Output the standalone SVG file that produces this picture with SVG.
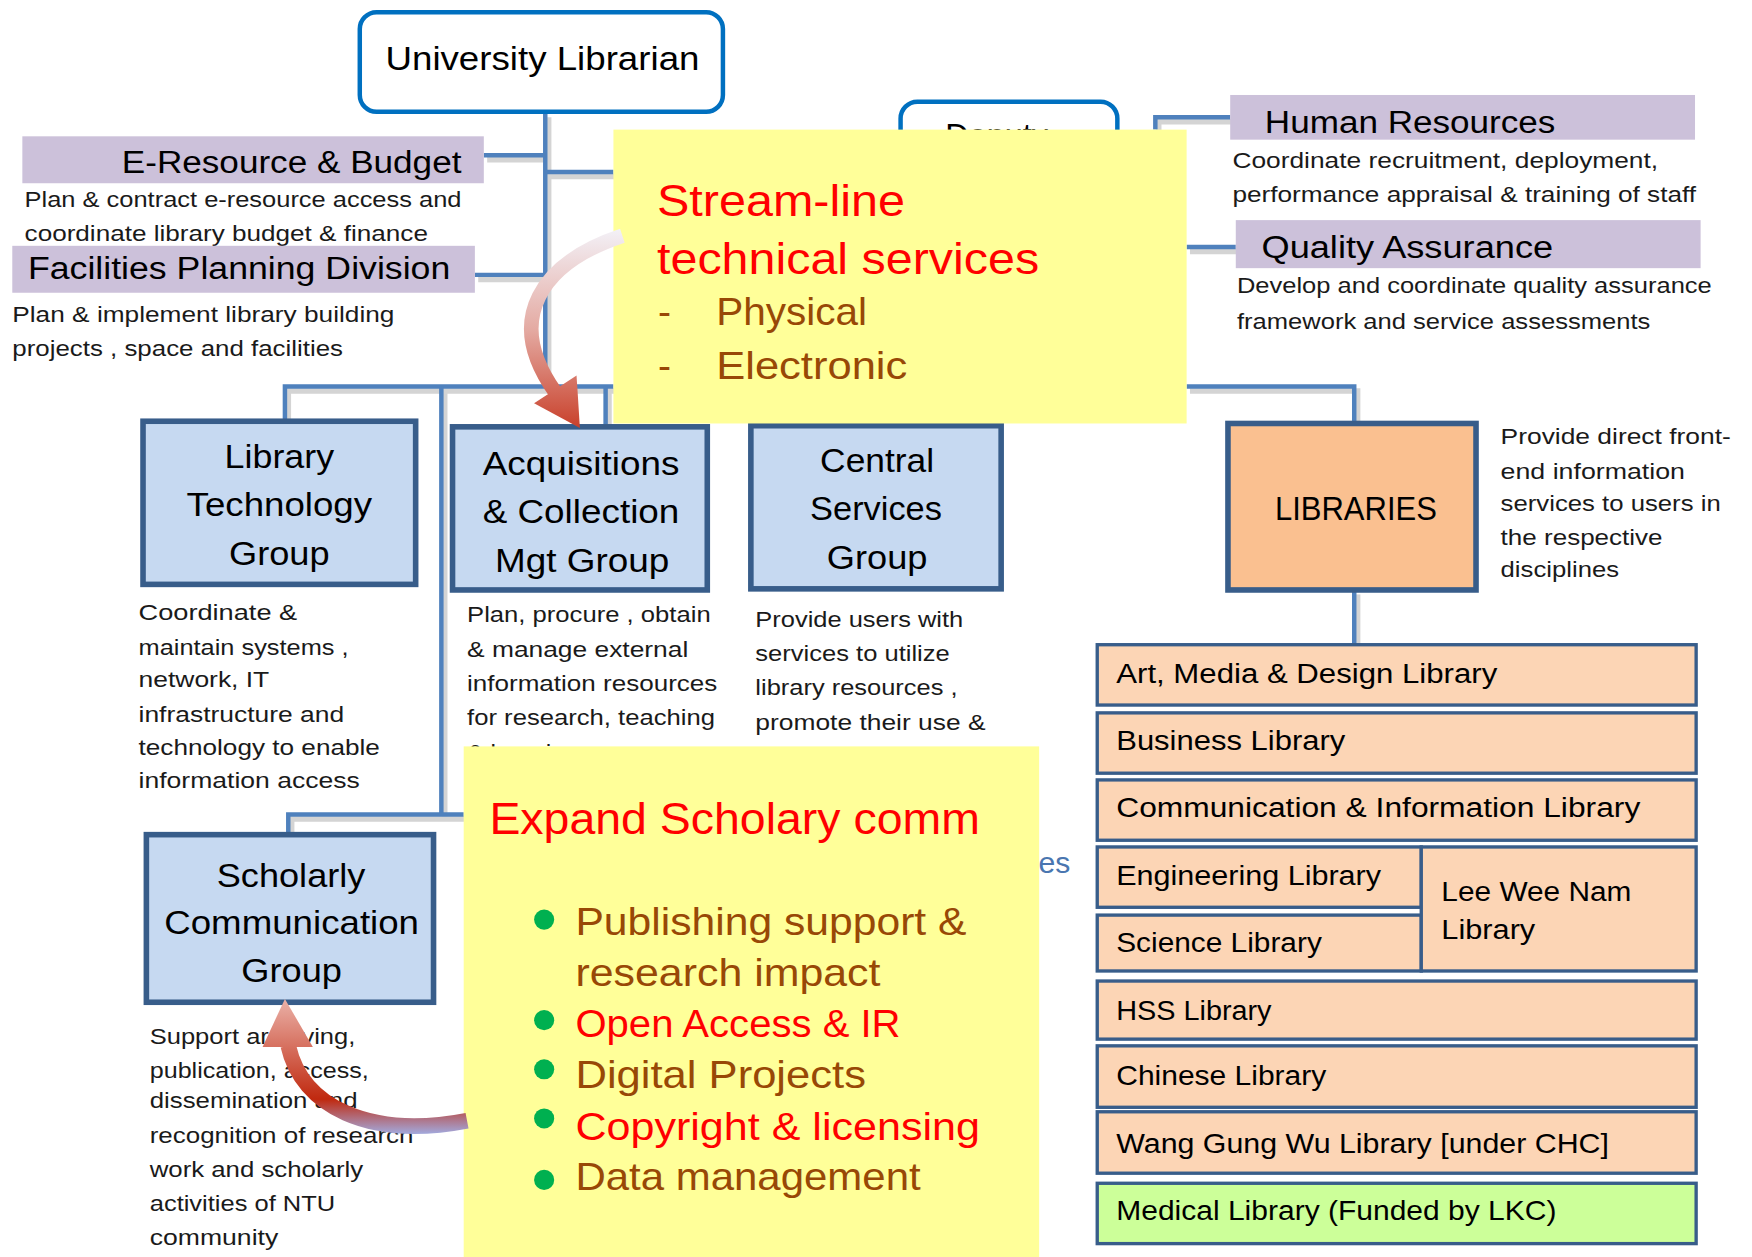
<svg xmlns="http://www.w3.org/2000/svg" width="1752" height="1257" viewBox="0 0 1752 1257">
<style>
.t{font-family:"Liberation Sans",Arial,sans-serif;fill:#000}
.ttl{font-size:29px}
.hd{font-size:28px}
.d{font-family:"Liberation Sans Narrow","Liberation Sans",Arial,sans-serif;font-size:20px;fill:#1a1a1a}
.lib{font-size:25px}
.y1{font-size:40px;fill:#FF0000}
.y2{font-size:35px;fill:#984806}
.red{fill:#FF0000}
.rnd{fill:#fff;stroke:#0070C0;stroke-width:4}
.pur{fill:#CCC1DA}
.grp{fill:#C6D9F1;stroke:#385D8A;stroke-width:5}
.lbx{fill:#FCD5B5;stroke:#385D8A;stroke-width:3}
.conn{fill:none;stroke:#4F81BD;stroke-width:4}
.shd{fill:none;stroke:#D4D4D4;stroke-width:5}
.yel{fill:#FFFF99}
.bul{fill:#00B050}
</style>
<defs>
<linearGradient id="g1" gradientUnits="userSpaceOnUse" x1="0" y1="205" x2="0" y2="385">
<stop offset="0" stop-color="#F3F1F7"/>
<stop offset="0.5" stop-color="#E4AAA2"/>
<stop offset="1" stop-color="#C83E28"/>
</linearGradient>
<linearGradient id="g2" gradientUnits="userSpaceOnUse" x1="0" y1="893" x2="0" y2="1014">
<stop offset="0" stop-color="#EBB3AA"/>
<stop offset="0.75" stop-color="#C0290F"/>
<stop offset="1" stop-color="#A3A6D8"/>
</linearGradient>
</defs>
<rect width="1752" height="1257" fill="#fff"/>
<g transform="scale(1.11735)">
<g id="connectors">
<g class="shd" transform="translate(3,4)">
<path d="M488 101 V346"/><path d="M433 139 H488"/><path d="M488 154 H549"/><path d="M425 246 H488"/>
<path d="M255 376 V346 H549"/><path d="M542 346 V380"/><path d="M395 346 V729"/><path d="M258 746 V729 H415"/>
<path d="M1062 346 H1212 V377"/><path d="M1034 116 V105 H1101"/><path d="M1062 221 H1106"/><path d="M1212 528 V577"/>
</g>
<g class="conn">
<path d="M488 101 V346"/><path d="M433 139 H488"/><path d="M488 154 H549"/><path d="M425 246 H488"/>
<path d="M255 376 V346 H549"/><path d="M542 346 V380"/><path d="M395 346 V729"/><path d="M258 746 V729 H415"/>
<path d="M1062 346 H1212 V377"/><path d="M1034 116 V105 H1101"/><path d="M1062 221 H1106"/><path d="M1212 528 V577"/>
</g>
</g>
<g id="university-librarian">
<rect class="rnd" x="322" y="11" width="325" height="89" rx="15"/>
<text class="t" x="345" y="63" font-size="30" textLength="281" lengthAdjust="spacingAndGlyphs">University Librarian</text>
</g>
<g id="deputy">
<rect class="rnd" x="806" y="91" width="194" height="80" rx="15"/>
<text class="t ttl" x="846" y="132">Deputy</text>
</g>
<g id="e-resource">
<rect class="pur" x="20" y="122" width="413" height="42"/>
<text class="t hd" x="109" y="155" textLength="304" lengthAdjust="spacingAndGlyphs">E-Resource &amp; Budget</text>
<text class="d" x="22" y="185" textLength="391" lengthAdjust="spacingAndGlyphs">Plan &amp; contract  e-resource access and</text>
<text class="d" x="22" y="216" textLength="361" lengthAdjust="spacingAndGlyphs">coordinate library budget &amp; finance</text>
</g>
<g id="facilities">
<rect class="pur" x="11" y="220" width="414" height="42"/>
<text class="t hd" x="25" y="250" textLength="378" lengthAdjust="spacingAndGlyphs">Facilities Planning Division</text>
<text class="d" x="11" y="288" textLength="342" lengthAdjust="spacingAndGlyphs">Plan &amp; implement library building</text>
<text class="d" x="11" y="319" textLength="296" lengthAdjust="spacingAndGlyphs">projects , space  and facilities</text>
</g>
<g id="human-resources">
<rect class="pur" x="1101" y="85" width="416" height="40"/>
<text class="t hd" x="1132" y="119" textLength="260" lengthAdjust="spacingAndGlyphs">Human Resources</text>
<text class="d" x="1103" y="150" textLength="381" lengthAdjust="spacingAndGlyphs">Coordinate recruitment, deployment,</text>
<text class="d" x="1103" y="181" textLength="415" lengthAdjust="spacingAndGlyphs">performance appraisal &amp; training of staff</text>
</g>
<g id="quality-assurance">
<rect class="pur" x="1106" y="197" width="416" height="43"/>
<text class="t hd" x="1129" y="231" textLength="261" lengthAdjust="spacingAndGlyphs">Quality Assurance</text>
<text class="d" x="1107" y="262" textLength="425" lengthAdjust="spacingAndGlyphs">Develop and coordinate quality assurance</text>
<text class="d" x="1107" y="294" textLength="370" lengthAdjust="spacingAndGlyphs">framework and  service assessments</text>
</g>
<g id="library-technology">
<rect class="grp" x="128" y="377" width="244" height="146"/>
<text class="t ttl" x="201" y="419" textLength="98" lengthAdjust="spacingAndGlyphs">Library</text>
<text class="t ttl" x="167" y="462" textLength="166" lengthAdjust="spacingAndGlyphs">Technology</text>
<text class="t ttl" x="205" y="506" textLength="90" lengthAdjust="spacingAndGlyphs">Group</text>
<text class="d" x="124" y="555" textLength="142" lengthAdjust="spacingAndGlyphs">Coordinate  &amp;</text>
<text class="d" x="124" y="586" textLength="188" lengthAdjust="spacingAndGlyphs">maintain systems ,</text>
<text class="d" x="124" y="615" textLength="117" lengthAdjust="spacingAndGlyphs">network, IT</text>
<text class="d" x="124" y="646" textLength="184" lengthAdjust="spacingAndGlyphs">infrastructure and</text>
<text class="d" x="124" y="676" textLength="216" lengthAdjust="spacingAndGlyphs">technology to enable</text>
<text class="d" x="124" y="705" textLength="198" lengthAdjust="spacingAndGlyphs">information  access</text>
</g>
<g id="acquisitions">
<rect class="grp" x="405" y="382" width="228" height="146"/>
<text class="t ttl" x="432" y="425" textLength="176" lengthAdjust="spacingAndGlyphs">Acquisitions</text>
<text class="t ttl" x="432" y="468" textLength="176" lengthAdjust="spacingAndGlyphs">&amp; Collection</text>
<text class="t ttl" x="443" y="512" textLength="156" lengthAdjust="spacingAndGlyphs">Mgt Group</text>
<text class="d" x="418" y="557" textLength="218" lengthAdjust="spacingAndGlyphs">Plan, procure , obtain</text>
<text class="d" x="418" y="588" textLength="198" lengthAdjust="spacingAndGlyphs">&amp; manage  external</text>
<text class="d" x="418" y="618" textLength="224" lengthAdjust="spacingAndGlyphs">information resources</text>
<text class="d" x="418" y="649" textLength="222" lengthAdjust="spacingAndGlyphs">for research, teaching</text>
<text class="d" x="418" y="680" textLength="100" lengthAdjust="spacingAndGlyphs">&amp; learning</text>
</g>
<g id="central-services">
<rect class="grp" x="672" y="381" width="224" height="146"/>
<text class="t ttl" x="734" y="422" textLength="102" lengthAdjust="spacingAndGlyphs">Central</text>
<text class="t ttl" x="725" y="465" textLength="118" lengthAdjust="spacingAndGlyphs">Services</text>
<text class="t ttl" x="740" y="509" textLength="90" lengthAdjust="spacingAndGlyphs">Group</text>
<text class="d" x="676" y="561" textLength="186" lengthAdjust="spacingAndGlyphs">Provide users with</text>
<text class="d" x="676" y="592" textLength="174" lengthAdjust="spacingAndGlyphs">services to utilize</text>
<text class="d" x="676" y="622" textLength="181" lengthAdjust="spacingAndGlyphs">library resources ,</text>
<text class="d" x="676" y="653" textLength="206" lengthAdjust="spacingAndGlyphs">promote their use &amp;</text>
<text class="d" x="676" y="684" textLength="200" lengthAdjust="spacingAndGlyphs">provide information literacy</text>
</g>
<g id="hidden-services">
<text class="t" x="958" y="781" font-size="27" text-anchor="end" fill="#4A76B0" style="fill:#4A76B0">Services</text>
</g>
<g id="libraries">
<rect class="grp" x="1099" y="379" width="222" height="149" style="fill:#FAC090"/>
<text class="t ttl" x="1141" y="465" textLength="145" lengthAdjust="spacingAndGlyphs">LIBRARIES</text>
<text class="d" x="1343" y="397" textLength="206" lengthAdjust="spacingAndGlyphs">Provide direct front-</text>
<text class="d" x="1343" y="429" textLength="165" lengthAdjust="spacingAndGlyphs">end information</text>
<text class="d" x="1343" y="457" textLength="197" lengthAdjust="spacingAndGlyphs">services  to users in</text>
<text class="d" x="1343" y="488" textLength="145" lengthAdjust="spacingAndGlyphs">the respective</text>
<text class="d" x="1343" y="516" textLength="106" lengthAdjust="spacingAndGlyphs">disciplines</text>
</g>
<g id="art-media-design">
<rect class="lbx" x="982" y="577" width="536" height="54"/>
<text class="t lib" x="999" y="611" textLength="341" lengthAdjust="spacingAndGlyphs">Art, Media &amp; Design Library</text>
</g>
<g id="business">
<rect class="lbx" x="982" y="638" width="536" height="54"/>
<text class="t lib" x="999" y="671" textLength="205" lengthAdjust="spacingAndGlyphs">Business  Library</text>
</g>
<g id="communication-information">
<rect class="lbx" x="982" y="698" width="536" height="54"/>
<text class="t lib" x="999" y="731" textLength="469" lengthAdjust="spacingAndGlyphs">Communication &amp; Information Library</text>
</g>
<g id="engineering">
<rect class="lbx" x="982" y="758" width="290" height="54"/>
<text class="t lib" x="999" y="792" textLength="237" lengthAdjust="spacingAndGlyphs">Engineering Library</text>
</g>
<g id="science">
<rect class="lbx" x="982" y="819" width="290" height="50"/>
<text class="t lib" x="999" y="852" textLength="184" lengthAdjust="spacingAndGlyphs">Science Library</text>
</g>
<g id="lee-wee-nam">
<rect class="lbx" x="1272" y="758" width="246" height="111"/>
<text class="t lib" x="1290" y="806" textLength="170" lengthAdjust="spacingAndGlyphs">Lee Wee Nam</text>
<text class="t lib" x="1290" y="840" textLength="84" lengthAdjust="spacingAndGlyphs">Library</text>
</g>
<g id="hss">
<rect class="lbx" x="982" y="878" width="536" height="52"/>
<text class="t lib" x="999" y="913" textLength="139" lengthAdjust="spacingAndGlyphs">HSS Library</text>
</g>
<g id="chinese">
<rect class="lbx" x="982" y="936" width="536" height="55"/>
<text class="t lib" x="999" y="971" textLength="188" lengthAdjust="spacingAndGlyphs">Chinese Library</text>
</g>
<g id="wang-gung-wu">
<rect class="lbx" x="982" y="995" width="536" height="55"/>
<text class="t lib" x="999" y="1032" textLength="441" lengthAdjust="spacingAndGlyphs">Wang Gung Wu Library [under CHC]</text>
</g>
<g id="medical">
<rect class="lbx" x="982" y="1059" width="536" height="54" style="fill:#CCFF99"/>
<text class="t lib" x="999" y="1092" textLength="394" lengthAdjust="spacingAndGlyphs">Medical Library (Funded by LKC)</text>
</g>
<g id="scholarly-communication">
<rect class="grp" x="131" y="747" width="257" height="150"/>
<text class="t ttl" x="194" y="794" textLength="133" lengthAdjust="spacingAndGlyphs">Scholarly</text>
<text class="t ttl" x="147" y="836" textLength="228" lengthAdjust="spacingAndGlyphs">Communication</text>
<text class="t ttl" x="216" y="879" textLength="90" lengthAdjust="spacingAndGlyphs">Group</text>
<text class="d" x="134" y="934" textLength="184" lengthAdjust="spacingAndGlyphs">Support archiving,</text>
<text class="d" x="134" y="965" textLength="196" lengthAdjust="spacingAndGlyphs">publication, access,</text>
<text class="d" x="134" y="992" textLength="186" lengthAdjust="spacingAndGlyphs">dissemination and</text>
<text class="d" x="134" y="1023" textLength="236" lengthAdjust="spacingAndGlyphs">recognition of research</text>
<text class="d" x="134" y="1053" textLength="191" lengthAdjust="spacingAndGlyphs">work and scholarly</text>
<text class="d" x="134" y="1084" textLength="166" lengthAdjust="spacingAndGlyphs">activities of NTU</text>
<text class="d" x="134" y="1114" textLength="115" lengthAdjust="spacingAndGlyphs">community</text>
</g>
<g id="callout-technical">
<rect class="yel" x="549" y="116" width="513" height="263"/>
<text class="t y1" x="588" y="193" textLength="222" lengthAdjust="spacingAndGlyphs">Stream-line</text>
<text class="t y1" x="588" y="245" textLength="342" lengthAdjust="spacingAndGlyphs">technical services</text>
<text class="t y2" x="589" y="291">-</text>
<text class="t y2" x="641" y="291" textLength="135" lengthAdjust="spacingAndGlyphs">Physical</text>
<text class="t y2" x="589" y="339">-</text>
<text class="t y2" x="641" y="339" textLength="171" lengthAdjust="spacingAndGlyphs">Electronic</text>
</g>
<g id="callout-scholarly">
<rect class="yel" x="415" y="668" width="515" height="460"/>
<text class="t y1" x="438" y="746" textLength="439" lengthAdjust="spacingAndGlyphs">Expand Scholary comm</text>
<circle class="bul" cx="487" cy="823" r="9"/>
<circle class="bul" cx="487" cy="913" r="9"/>
<circle class="bul" cx="487" cy="957" r="9"/>
<circle class="bul" cx="487" cy="1001" r="9"/>
<circle class="bul" cx="487" cy="1056" r="9"/>
<text class="t y2" x="515" y="837" textLength="350" lengthAdjust="spacingAndGlyphs">Publishing support &amp;</text>
<text class="t y2" x="515" y="882" textLength="273" lengthAdjust="spacingAndGlyphs">research impact</text>
<text class="t y2 red" x="515" y="928" textLength="291" lengthAdjust="spacingAndGlyphs">Open Access &amp; IR</text>
<text class="t y2" x="515" y="974" textLength="260" lengthAdjust="spacingAndGlyphs">Digital Projects</text>
<text class="t y2 red" x="515" y="1020" textLength="362" lengthAdjust="spacingAndGlyphs">Copyright &amp; licensing</text>
<text class="t y2" x="515" y="1065" textLength="309" lengthAdjust="spacingAndGlyphs">Data management</text>
</g>
<g id="arrows">
<path d="M557 211 C485 235 450 285 497 351" fill="none" stroke="url(#g1)" stroke-width="13"/>
<polygon points="478,361 516,336 519,383" fill="url(#g1)"/>
<path d="M418 1003 C330 1020 270 990 258 936" fill="none" stroke="url(#g2)" stroke-width="14"/>
<polygon points="235,937 280,937 255,894" fill="url(#g2)"/>
</g>
</g>
</svg>
